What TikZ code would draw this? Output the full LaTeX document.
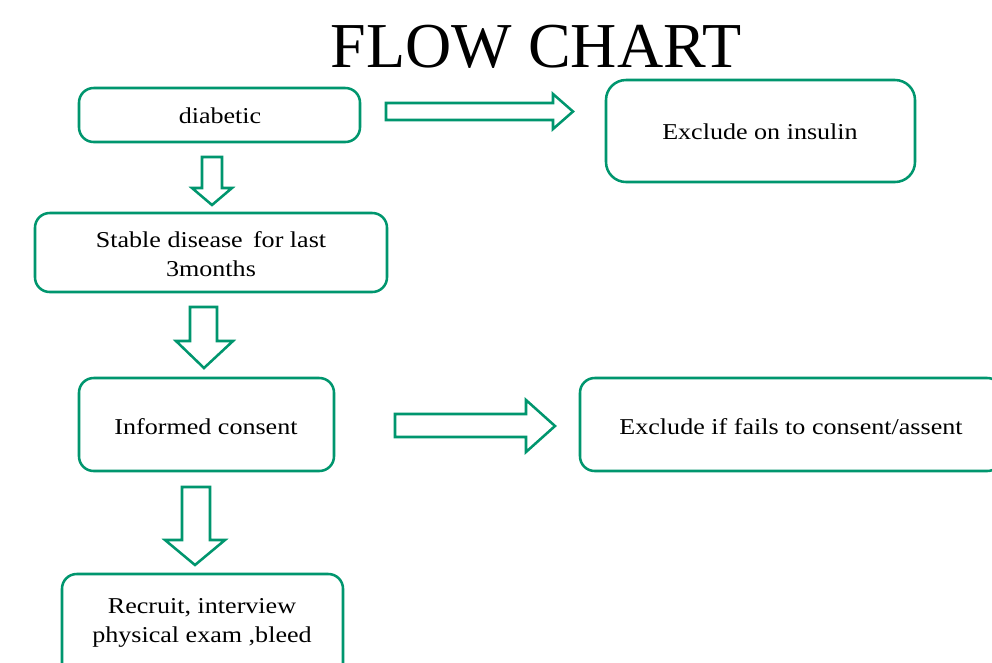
\documentclass[tikz,border=0pt]{standalone}
\usepackage{fontspec}
\setmainfont{Liberation Serif}
\newfontfamily\lblfont[FakeStretch=1.15]{Liberation Serif}
\definecolor{fcgreen}{RGB}{0,150,110}
\begin{document}
\begin{tikzpicture}[x=0.75pt,y=-0.75pt,
  box/.style={draw=fcgreen,line width=1.9pt,rounded corners=11pt,fill=white},
  blockarrow/.style={draw=fcgreen,line width=1.9pt,fill=white,line join=miter},
  lbl/.style={font=\lblfont\fontsize{17pt}{21.75pt}\selectfont,align=center,text=black}]
\useasboundingbox (0,0) rectangle (992,662);
\fill[white] (0,0) rectangle (992,662);
% title
\node[font=\fontsize{48pt}{52pt}\selectfont] (title) at (536,47) {FLOW CHART};
% boxes
\draw[box] (79,88) rectangle (360,142);
\node[lbl] (diab) at (220,116) {diabetic};
\draw[box,rounded corners=15pt] (606,80) rectangle (915,182);
\node[lbl] (excl1) at (760,132) {Exclude on insulin};
\draw[box] (35,213) rectangle (387,292);
\node[lbl] (stable) at (211,254) {Stable disease\, for last\\3months};
\draw[box] (79,378) rectangle (334,471);
\node[lbl] (consent) at (206,427) {Informed consent};
\draw[box] (580,378) rectangle (1002,471);
\node[lbl] (excl2) at (791,427) {Exclude if fails to consent/assent};
\draw[box] (62,574) rectangle (343,680);
\node[lbl] (recruit) at (202,623) {Recruit, interview\\physical exam ,bleed};
% block arrows
\draw[blockarrow] (386,103) -- (553,103) -- (553,94) -- (573,111.5) -- (553,129) -- (553,120) -- (386,120) -- cycle;
\draw[blockarrow] (202,157) -- (222,157) -- (222,188) -- (232,188) -- (212,205) -- (192,188) -- (202,188) -- cycle;
\draw[blockarrow] (190,307) -- (217,307) -- (217,341) -- (233,341) -- (204,368) -- (176,341) -- (190,341) -- cycle;
\draw[blockarrow] (395,414) -- (526,414) -- (526,400) -- (555,426) -- (526,452) -- (526,437) -- (395,437) -- cycle;
\draw[blockarrow] (182,487) -- (210,487) -- (210,540) -- (225,540) -- (195,565) -- (165,540) -- (182,540) -- cycle;
\end{tikzpicture}
\end{document}
